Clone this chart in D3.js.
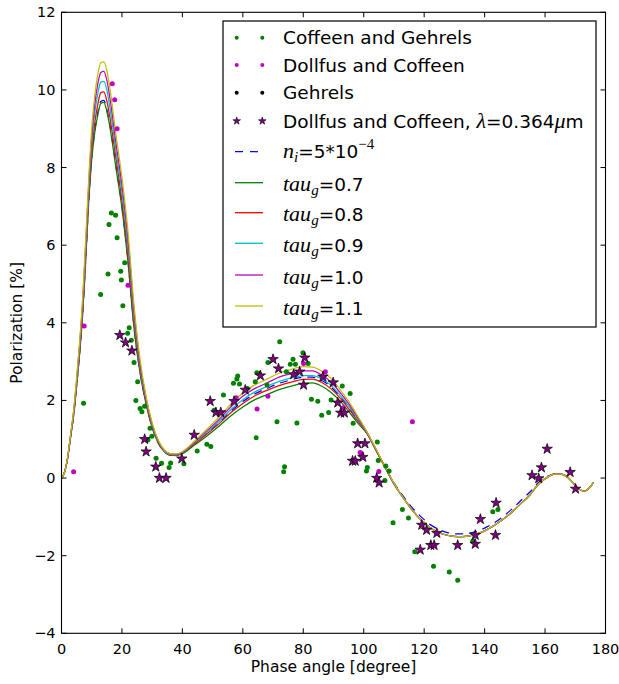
<!DOCTYPE html>
<html><head><meta charset="utf-8">
<script src="https://cdn.jsdelivr.net/npm/d3@7"></script>
<style>body{margin:0;background:#fff}svg{display:block}text{font-family:"DejaVu Sans",sans-serif}</style>
</head><body>
<svg id="c" width="619" height="684"></svg>
<script>
// ---- data ----
const phase = [0,1,2,3,4,5,6,7,8,9,10,11,12,13,14,15,16,18,20,22,24,26,28,30,32,34,36,38,40,44,48,52,56,60,64,68,72,76,80,83,86,89,92,95,98,101,104,107,110,113,116,119,122,125,128,131,134,137,140,143,146,149,152,155,158,161,163,165,167,169,171,173,174.5,176];
const niModel = [0,0.15,0.5,1.05,1.6,2.36,3.22,4.22,5.62,7.12,8.25,8.95,9.4,9.7,9.73,9.5,9.1,8.05,7.0,5.6,3.9,2.73,1.92,1.31,0.91,0.68,0.59,0.59,0.65,0.9,1.15,1.42,1.72,1.97,2.17,2.31,2.44,2.53,2.6,2.6,2.52,2.36,2.12,1.83,1.5,1.18,0.74,0.3,-0.12,-0.46,-0.76,-1.0,-1.2,-1.33,-1.41,-1.44,-1.43,-1.38,-1.29,-1.16,-1.0,-0.8,-0.58,-0.36,-0.1,0.05,0.1,0.1,0.05,-0.1,-0.27,-0.34,-0.27,-0.12];
const tau07 = [0,0.15,0.5,1.05,1.6,2.35,3.2,4.2,5.6,7.1,8.2,8.9,9.35,9.65,9.68,9.45,9.05,8.0,6.95,5.55,3.85,2.7,1.9,1.3,0.9,0.68,0.59,0.58,0.63,0.85,1.08,1.33,1.6,1.83,2.02,2.15,2.28,2.37,2.44,2.45,2.37,2.22,2.0,1.72,1.42,1.15,0.72,0.28,-0.15,-0.5,-0.82,-1.08,-1.28,-1.41,-1.48,-1.51,-1.5,-1.45,-1.36,-1.23,-1.07,-0.88,-0.66,-0.43,-0.14,0.03,0.1,0.1,0.05,-0.1,-0.27,-0.34,-0.27,-0.12];
const tau08 = [0,0.15,0.5,1.07,1.63,2.4,3.28,4.3,5.7,7.25,8.4,9.15,9.62,9.93,9.95,9.72,9.3,8.25,7.15,5.75,4.0,2.78,1.95,1.33,0.92,0.69,0.6,0.59,0.65,0.88,1.13,1.39,1.68,1.92,2.12,2.26,2.38,2.47,2.54,2.55,2.47,2.31,2.08,1.79,1.47,1.17,0.73,0.28,-0.15,-0.5,-0.82,-1.08,-1.28,-1.41,-1.48,-1.51,-1.5,-1.45,-1.36,-1.23,-1.07,-0.88,-0.66,-0.43,-0.14,0.03,0.1,0.1,0.05,-0.1,-0.27,-0.34,-0.27,-0.12];
const tau09 = [0,0.15,0.51,1.09,1.67,2.46,3.36,4.42,5.85,7.4,8.6,9.4,9.9,10.2,10.22,10.0,9.55,8.45,7.35,5.95,4.15,2.86,2.0,1.36,0.94,0.7,0.61,0.6,0.66,0.91,1.17,1.45,1.76,2.02,2.22,2.36,2.49,2.58,2.64,2.64,2.56,2.4,2.15,1.86,1.52,1.18,0.74,0.29,-0.15,-0.5,-0.82,-1.08,-1.28,-1.41,-1.48,-1.51,-1.5,-1.45,-1.36,-1.23,-1.07,-0.88,-0.66,-0.43,-0.14,0.03,0.1,0.1,0.05,-0.1,-0.27,-0.34,-0.27,-0.12];
const tau10 = [0,0.15,0.52,1.1,1.7,2.52,3.44,4.54,6.0,7.55,8.8,9.62,10.15,10.45,10.48,10.25,9.8,8.65,7.55,6.15,4.3,2.95,2.05,1.39,0.96,0.72,0.62,0.61,0.67,0.93,1.21,1.5,1.83,2.11,2.31,2.45,2.6,2.69,2.76,2.76,2.66,2.49,2.22,1.92,1.56,1.19,0.75,0.3,-0.14,-0.5,-0.82,-1.08,-1.28,-1.41,-1.48,-1.51,-1.5,-1.45,-1.36,-1.23,-1.07,-0.88,-0.66,-0.43,-0.14,0.03,0.1,0.1,0.05,-0.1,-0.27,-0.34,-0.27,-0.12];
const tau11 = [0,0.15,0.53,1.12,1.73,2.58,3.52,4.65,6.15,7.7,9.0,9.85,10.4,10.7,10.72,10.5,10.05,8.85,7.75,6.35,4.45,3.05,2.1,1.42,0.98,0.73,0.63,0.62,0.68,0.95,1.25,1.56,1.9,2.2,2.4,2.55,2.7,2.8,2.87,2.86,2.76,2.58,2.3,1.98,1.6,1.2,0.76,0.3,-0.13,-0.5,-0.82,-1.08,-1.28,-1.41,-1.48,-1.51,-1.5,-1.45,-1.36,-1.23,-1.07,-0.88,-0.66,-0.43,-0.14,0.03,0.1,0.1,0.05,-0.1,-0.27,-0.34,-0.27,-0.12];

const coffeenGehrels = [[7.3,1.93],[12.95,4.73],[15.4,5.26],[15.7,6.53],[16.5,6.83],[17.9,6.77],[18.4,6.19],[19.6,5.33],[19.8,5.1],[20.3,4.44],[20.9,5.55],[21.9,3.73],[22.4,3.87],[23.1,3.55],[24.0,2.98],[24.6,2.0],[25.2,2.48],[26.0,1.79],[26.6,1.71],[27.5,1.85],[28.6,0.98],[29.3,1.28],[29.9,1.08],[31.3,0.51],[33.1,0.38],[35.6,0.27],[36.1,0.39],[40.5,0.37],[44.9,0.7],[48.1,0.87],[49.4,0.81],[50.5,1.75],[53.6,2.14],[56.9,2.44],[58.0,2.55],[58.3,2.63],[58.9,2.42],[61.5,2.31],[64.1,2.48],[64.4,1.04],[64.6,2.71],[65.4,2.7],[68.0,2.4],[68.3,2.98],[71.3,1.45],[72.2,3.51],[73.5,0.16],[73.8,0.29],[74.4,2.74],[75.7,2.93],[76.6,3.06],[77.4,2.93],[77.9,1.42],[79.9,3.23],[81.6,2.95],[82.7,2.03],[84.8,1.98],[86.1,1.62],[88.4,1.69],[89.2,2.01],[92.9,2.37],[95.5,2.18],[96.5,1.41],[100.9,0.18],[101.2,0.27],[104.5,0.93],[104.8,0.45],[107.0,-0.06],[107.3,0.31],[108.4,0.18],[109.7,-1.15],[112.8,-0.81],[114.8,-1.03],[116.9,-1.9],[123.1,-2.27],[128.3,-2.42],[131.1,-2.63],[136.1,-1.62],[142.7,-0.87],[144.4,-0.81]];
const dollfusCoffeen = [[4.0,0.16],[7.5,3.92],[16.8,10.16],[17.6,9.75],[18.4,9.0],[22.0,4.97],[57.8,2.07],[64.7,1.78],[68.3,2.11],[80.1,2.95],[87.3,2.74],[93.2,1.81],[98.8,0.66],[99.3,0.62],[105.0,0.17],[116.1,1.45]];
const gehrels = [];
const dollfusUV = [[19.3,3.68],[21.2,3.49],[23.3,3.28],[27.5,1.0],[28.0,0.68],[31.2,0.29],[32.4,0.0],[34.6,0.0],[39.8,0.5],[43.9,1.11],[49.2,1.98],[51.1,1.69],[52.7,1.69],[57.1,1.98],[60.8,2.27],[65.8,2.64],[70.0,3.06],[71.8,2.82],[76.8,2.67],[78.8,2.74],[80.5,3.1],[80.1,2.4],[86.5,2.61],[89.9,2.46],[91.4,1.94],[92.4,1.68],[93.6,1.68],[96.3,0.44],[97.2,0.44],[98.0,0.89],[100.4,0.89],[99.7,0.54],[104.3,0.0],[105.1,-0.12],[118.7,-1.85],[119.2,-1.21],[120.8,-1.34],[122.2,-1.73],[123.3,-1.73],[124.2,-1.42],[131.1,-1.73],[136.9,-1.47],[136.9,-1.7],[138.6,-1.06],[143.6,-1.47],[143.8,-0.64],[155.7,0.07],[157.9,-0.01],[158.8,0.27],[160.7,0.75],[168.3,0.15],[170.1,-0.28]];

const xTicks = [0,20,40,60,80,100,120,140,160,180];
const yTicks = [-4,-2,0,2,4,6,8,10,12];
const tauLabels = ["0.7","0.8","0.9","1.0","1.1"];

// ---- drawing ----
const L=61.5,R=605.5,T=12.3,B=633.3;
const svg=d3.select("#c");
svg.append("rect").attr("width",619).attr("height",684).attr("fill","#fff");
const x=d3.scaleLinear().domain([0,180]).range([L,R]);
const y=d3.scaleLinear().domain([-4,12]).range([B,T]);

svg.append("defs").append("clipPath").attr("id","clip").append("rect")
  .attr("x",L).attr("y",T).attr("width",R-L).attr("height",B-T);
const plot=svg.append("g").attr("clip-path","url(#clip)");

const line=d3.line().x(d=>x(d[0])).y(d=>y(d[1])).curve(d3.curveMonotoneX);
const models=[
  {v:niModel,c:"#0000ff",dash:"8,6"},
  {v:tau07,c:"#008000"},
  {v:tau08,c:"#ff0000"},
  {v:tau09,c:"#00bfbf"},
  {v:tau10,c:"#bf00bf"},
  {v:tau11,c:"#bfbf00"}
];
models.forEach(m=>{
  plot.append("path").datum(phase.map((p,i)=>[p,m.v[i]]))
    .attr("d",line).attr("fill","none").attr("stroke",m.c).attr("stroke-width",1.25)
    .attr("stroke-dasharray",m.dash||null);
});

function dots(data,color){
  plot.selectAll(null).data(data).enter().append("circle")
    .attr("cx",d=>x(d[0])).attr("cy",d=>y(d[1])).attr("r",2.5).attr("fill",color);
}
dots(coffeenGehrels,"#008000");
dots(dollfusCoffeen,"#bf00bf");
dots(gehrels,"#000000");
const star=d3.symbol().type(d3.symbolStar).size(34);
plot.selectAll(null).data(dollfusUV).enter().append("path")
  .attr("d",star).attr("transform",d=>`translate(${x(d[0])},${y(d[1])})`)
  .attr("fill","#800080").attr("stroke","#000").attr("stroke-width",0.7);

// frame
svg.append("rect").attr("x",L).attr("y",T).attr("width",R-L).attr("height",B-T)
  .attr("fill","none").attr("stroke","#000").attr("stroke-width",1.1);

// ticks (inward, all sides)
const tk=5;
xTicks.forEach(t=>{
  const px=x(t);
  svg.append("line").attr("x1",px).attr("x2",px).attr("y1",B).attr("y2",B-tk).attr("stroke","#000");
  svg.append("line").attr("x1",px).attr("x2",px).attr("y1",T).attr("y2",T+tk).attr("stroke","#000");
  svg.append("text").attr("x",px).attr("y",B+21).attr("text-anchor","middle")
    .attr("font-size",14.5).text(t);
});
yTicks.forEach(t=>{
  const py=y(t);
  svg.append("line").attr("x1",L).attr("x2",L+tk).attr("y1",py).attr("y2",py).attr("stroke","#000");
  svg.append("line").attr("x1",R).attr("x2",R-tk).attr("y1",py).attr("y2",py).attr("stroke","#000");
  svg.append("text").attr("x",L-6).attr("y",py+5).attr("text-anchor","end")
    .attr("font-size",14.5).text(t<0?"\u2212"+Math.abs(t):t);
});
svg.append("text").attr("x",(L+R)/2).attr("y",672).attr("text-anchor","middle")
  .attr("font-size",15.5).text("Phase angle [degree]");
svg.append("text").attr("transform",`translate(22,${(T+B)/2}) rotate(-90)`)
  .attr("text-anchor","middle").attr("font-size",15.5).text("Polarization [%]");

// legend
const lg=svg.append("g");
lg.append("rect").attr("x",223).attr("y",21).attr("width",373).attr("height",306)
  .attr("fill","#fff").attr("stroke","#000").attr("stroke-width",1.2);
const rows=[37.7,65,92.7,121,151.7,182.7,212.7,243.3,275,306];
const mx=[236.7,262.3], tx=283, fs=18.5;
const math='"Liberation Serif",serif';
function label(yy){return lg.append("text").attr("x",tx).attr("y",yy+6.5).attr("font-size",fs);}
[["#008000","Coffeen and Gehrels"],["#bf00bf","Dollfus and Coffeen"],["#000000","Gehrels"]].forEach((e,i)=>{
  mx.forEach(m=>lg.append("circle").attr("cx",m).attr("cy",rows[i]).attr("r",2).attr("fill",e[0]));
  label(rows[i]).text(e[1]);
});
const lstar=d3.symbol().type(d3.symbolStar).size(18);
mx.forEach(m=>lg.append("path").attr("d",lstar).attr("transform",`translate(${m},${rows[3]})`)
  .attr("fill","#800080").attr("stroke","#000").attr("stroke-width",0.6));
{
  const t=label(rows[3]);
  t.append("tspan").text("Dollfus and Coffeen, ");
  t.append("tspan").attr("font-family",math).attr("font-style","italic").attr("font-size",22).text("\u03bb");
  t.append("tspan").text("=0.364");
  t.append("tspan").attr("font-family",math).attr("font-style","italic").attr("font-size",22).text("\u03bc");
  t.append("tspan").text("m");
}
// n_i row
lg.append("line").attr("x1",235).attr("x2",263).attr("y1",rows[4]).attr("y2",rows[4])
  .attr("stroke","#0000ff").attr("stroke-width",1.2).attr("stroke-dasharray","8,7");
{
  const t=label(rows[4]);
  t.append("tspan").attr("font-family",math).attr("font-style","italic").attr("font-size",22).text("n");
  t.append("tspan").attr("font-family",math).attr("font-style","italic").attr("font-size",15).attr("dy",4).text("i");
  t.append("tspan").attr("dy",-4).text("=5*10");
  t.append("tspan").attr("font-family",math).attr("font-size",15).attr("dy",-9).text("\u22124");
}
models.slice(1).forEach((m,i)=>{
  const yy=rows[5+i];
  lg.append("line").attr("x1",235).attr("x2",263).attr("y1",yy).attr("y2",yy)
    .attr("stroke",m.c).attr("stroke-width",1.3);
  const t=label(yy+2);
  t.append("tspan").attr("font-family",math).attr("font-style","italic").attr("font-size",22).text("tau");
  t.append("tspan").attr("font-family",math).attr("font-style","italic").attr("font-size",15).attr("dy",4).text("g");
  t.append("tspan").attr("dy",-4).text("="+tauLabels[i]);
});
</script>
</body></html>
